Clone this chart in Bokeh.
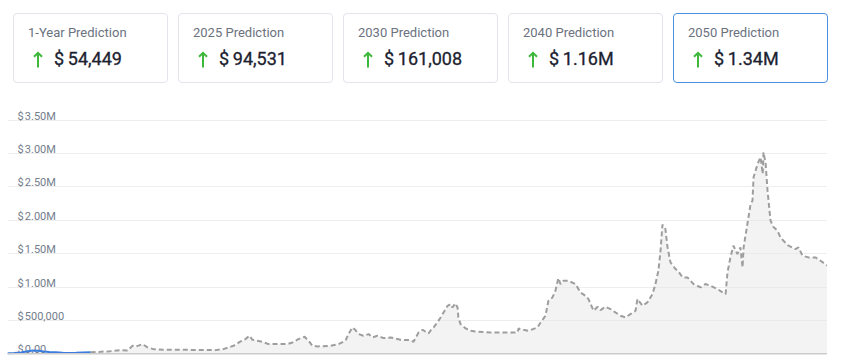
from bokeh.plotting import figure
from bokeh.models import Div, Range1d, Grid, FixedTicker, Span
from bokeh.layouts import column
from bokeh.core.properties import value
from bokeh.embed import file_html
from bokeh.resources import INLINE

# ---- card data ----
card_titles = ["1-Year Prediction", "2025 Prediction", "2030 Prediction", "2040 Prediction", "2050 Prediction"]
card_values = ["$\u200954,449", "$\u200994,531", "$\u2009161,008", "$\u20091.16M", "$\u20091.34M"]

# ---- axis ticks ----
tick_values = [0, 500000, 1000000, 1500000, 2000000, 2500000, 3000000, 3500000]
tick_labels = ["$\u200a0.00", "$\u200a500,000", "$\u200a1.00M", "$\u200a1.50M", "$\u200a2.00M",
               "$\u200a2.50M", "$\u200a3.00M", "$\u200a3.50M"]

# ---- historic price (blue) ----
hist_years = [2019.50, 2019.75, 2020.00, 2020.25, 2020.45, 2020.65, 2020.85, 2021.05,
              2021.30, 2021.55, 2021.80, 2022.05, 2022.30, 2022.59]
hist_price = [9000, 11000, 20000, 38000, 50000, 45000, 35000, 28000,
              22000, 15000, 12000, 14000, 18000, 22000]

# ---- predicted price (dashed gray) ----
pred_years = [2022.59, 2022.96, 2023.33, 2023.70, 2023.96, 2024.15, 2024.26, 2024.52, 2024.71, 2024.93,
              2025.30, 2025.93, 2026.68, 2027.24, 2027.53, 2027.91, 2028.17, 2028.35, 2028.50, 2028.61,
              2028.80, 2028.98, 2029.21, 2029.54, 2029.91, 2030.10, 2030.32, 2030.55, 2030.70, 2030.84,
              2031.03, 2031.51, 2031.81, 2032.07, 2032.18, 2032.33, 2032.44, 2032.56, 2032.74, 2032.93,
              2033.08, 2033.26, 2033.49, 2033.75, 2034.12, 2034.49, 2034.60, 2034.79, 2034.94, 2035.05,
              2035.16, 2035.23, 2035.35, 2035.49, 2035.61, 2035.72, 2035.87, 2035.98, 2036.05, 2036.16,
              2036.24, 2036.27, 2036.35, 2036.54, 2036.72, 2036.98, 2037.47, 2038.10, 2038.47, 2038.51,
              2038.69, 2038.88, 2039.21, 2039.33, 2039.51, 2039.62, 2039.77, 2039.88, 2039.99, 2040.07,
              2040.18, 2040.36, 2040.63, 2040.81, 2041.00, 2041.11, 2041.30, 2041.45, 2041.56, 2041.74,
              2041.93, 2042.11, 2042.30, 2042.49, 2042.67, 2042.86, 2042.93, 2043.12, 2043.30, 2043.49,
              2043.60, 2043.71, 2043.79, 2043.86, 2043.97, 2044.05, 2044.16, 2044.35, 2044.46, 2044.61,
              2044.79, 2045.02, 2045.28, 2045.46, 2045.65, 2045.91, 2046.10, 2046.21, 2046.28, 2046.39,
              2046.50, 2046.65, 2046.76, 2046.84, 2046.88, 2047.02, 2047.14, 2047.21, 2047.25, 2047.40,
              2047.51, 2047.59, 2047.62, 2047.70, 2047.77, 2047.88, 2048.00, 2048.14, 2048.25, 2048.36,
              2048.55, 2048.81, 2048.92, 2049.07, 2049.29, 2049.55, 2049.74, 2050.00]
pred_price = [22000, 30000, 40000, 55000, 50000, 120000, 105000, 145000, 95000, 70000,
              60000, 60000, 57000, 55000, 70000, 120000, 185000, 220000, 270000, 210000,
              195000, 180000, 145000, 145000, 145000, 170000, 220000, 255000, 195000, 120000,
              110000, 120000, 145000, 195000, 295000, 395000, 355000, 295000, 270000, 295000,
              245000, 270000, 235000, 245000, 210000, 205000, 180000, 320000, 360000, 330000,
              305000, 345000, 395000, 470000, 545000, 620000, 720000, 745000, 695000, 755000,
              695000, 545000, 445000, 380000, 345000, 330000, 320000, 320000, 320000, 380000,
              360000, 345000, 395000, 470000, 570000, 795000, 845000, 945000, 1135000, 1045000,
              1095000, 1095000, 1045000, 920000, 870000, 820000, 645000, 705000, 655000, 705000,
              670000, 620000, 570000, 545000, 595000, 645000, 820000, 720000, 770000, 895000,
              1045000, 1245000, 1545000, 1935000, 1870000, 1595000, 1370000, 1270000, 1230000, 1145000,
              1145000, 1045000, 995000, 1045000, 1020000, 970000, 920000, 895000, 1220000, 1445000,
              1620000, 1495000, 1595000, 1295000, 1595000, 1945000, 2245000, 2295000, 2645000, 2845000,
              2945000, 2695000, 3020000, 2845000, 2445000, 1995000, 1895000, 1845000, 1745000, 1695000,
              1620000, 1570000, 1595000, 1470000, 1445000, 1445000, 1395000, 1320000]
assert len(pred_years) == len(pred_price)
assert len(hist_years) == len(hist_price)

# ---- cards (HTML) ----
arrow_svg = ('<svg width="10" height="17" viewBox="0 0 10 17" style="position:absolute;left:19px;top:37px">'
             '<path d="M5 16.5 V1.8 M1 5.8 L5 1.8 L9 5.8" fill="none" stroke="#3db83a" stroke-width="2"/></svg>')
html = '<div style="position:relative;width:830px;height:92px;font-family:Roboto,sans-serif">'
for i, (t, v) in enumerate(zip(card_titles, card_values)):
    border = "#4a8fe0" if i == len(card_titles) - 1 else "#e2e4ec"
    left = 13 + i * 165
    html += (f'<div style="position:absolute;left:{left}px;top:13px;width:155px;height:70px;'
             f'box-sizing:border-box;border:1px solid {border};border-radius:4px;background:#fff">')
    html += (f'<div style="position:absolute;left:14px;top:11px;font-size:13px;line-height:16px;'
             f'color:#6b7280;white-space:nowrap">{t}</div>')
    html += arrow_svg
    html += (f'<div style="position:absolute;left:40px;top:33.5px;font-size:18px;line-height:22px;'
             f'font-weight:400;color:#1c2230;-webkit-text-stroke:0.3px #1c2230;white-space:nowrap">{v}</div>')
    html += '</div>'
html += '</div>'
cards = Div(text=html, width=830, height=92, margin=0)

# ---- chart ----
x_start, x_end = hist_years[0], pred_years[-1]
p = figure(width=820, height=263, x_range=Range1d(x_start, x_end), y_range=Range1d(-25500, 3916000),
           x_axis_type=None, y_axis_type=None, output_backend="svg", toolbar_location=None,
           min_border=0, outline_line_color=None, margin=(0, 0, 0, 7))
p.add_layout(Grid(dimension=1, ticker=FixedTicker(ticks=tick_values), grid_line_color="#eeeeee"))

all_years = hist_years + pred_years[1:]
all_price = hist_price + pred_price[1:]
p.varea(x=all_years, y1=0, y2=all_price, fill_color="#e4e4e4", fill_alpha=0.45)
p.add_layout(Span(location=0, dimension="width", line_color="#cccccc", line_width=1.5))

p.text(x=[x_start] * len(tick_values), y=tick_values, text=tick_labels, x_offset=10, y_offset=-4,
       text_baseline="alphabetic", text_align="left", text_font=value("Roboto"),
       text_font_size="11px", text_color="#737d8c")

p.line(pred_years, pred_price, line_color="#9e9e9e", line_width=2, line_dash="5 3")
p.line(hist_years, hist_price, line_color="#3b7ddd", line_width=2)

layout = column(cards, p, spacing=0)
open("out.html", "w").write(file_html(layout, INLINE))
